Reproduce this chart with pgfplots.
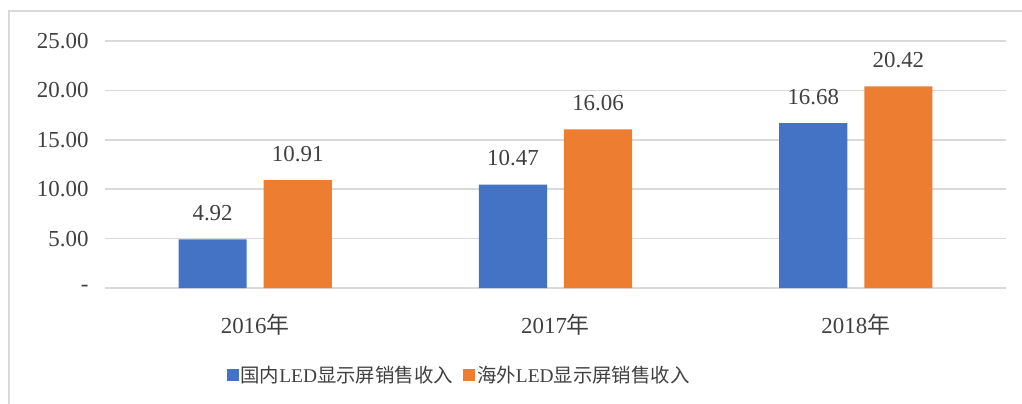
\documentclass[border=0pt]{standalone}
\usepackage{fontspec}
\setmainfont{Liberation Serif}
\newfontfamily\cjk{Noto Sans CJK SC}
\usepackage{pgfplots}
\pgfplotsset{compat=1.18}
\definecolor{cblue}{HTML}{4472C4}
\definecolor{corange}{HTML}{ED7D31}
\definecolor{tgray}{HTML}{404040}
\definecolor{ggray}{HTML}{D9D9D9}
\begin{document}
\begin{tikzpicture}[x=1bp,y=1bp]
\useasboundingbox (0,0) rectangle (1022,403);
\clip (0,0) rectangle (1022,403);
\draw[ggray, line width=1.5bp] (9,-10) -- (9,392) -- (1040,392);
\begin{axis}[
  at={(105bp,115bp)}, anchor=south west,
  width=901bp, height=247bp, scale only axis,
  xmin=-0.5, xmax=2.5, ymin=0, ymax=25,
  ybar,
  axis line style={draw=none}, tick style={draw=none},
  ymajorgrids, grid style={ggray, line width=1.5bp},
  xtick={0,1,2},
  xticklabels={2016{\cjk 年},2017{\cjk 年},2018{\cjk 年}},
  ytick={0,5,10,15,20,25},
  yticklabels={-,5.00,10.00,15.00,20.00,25.00},
  ticklabel style={font=\fontsize{23}{27}\selectfont, text=tgray},
  yticklabel style={anchor=east, xshift=-13bp},
  xticklabel style={anchor=north, yshift=-18bp},
  bar width=0.227,
  nodes near coords, point meta=explicit symbolic,
  every node near coord/.append style={font=\fontsize{23}{27}\selectfont, text=tgray, anchor=south, yshift=15bp},
  legend style={at={(0.393,-0.352)}, anchor=center, legend columns=2, draw=none, fill=none,
    font=\fontsize{19.5}{23}\selectfont, text=tgray,
    /tikz/every even column/.append style={column sep=8bp}},
  legend image code/.code={\fill[#1] (0bp,-6bp) rectangle (12bp,6bp);},
]
\addplot[fill=cblue, draw=none, bar shift=-0.1417] coordinates {(0,4.92) [4.92] (1,10.47) [10.47] (2,16.68) [16.68]};
\addlegendentry{{\cjk 国内}LED{\cjk 显示屏销售收入}}
\addplot[fill=corange, draw=none, bar shift=0.1417] coordinates {(0,10.91) [10.91] (1,16.06) [16.06] (2,20.42) [20.42]};
\addlegendentry{{\cjk 海外}LED{\cjk 显示屏销售收入}}
\end{axis}
\end{tikzpicture}
\end{document}
